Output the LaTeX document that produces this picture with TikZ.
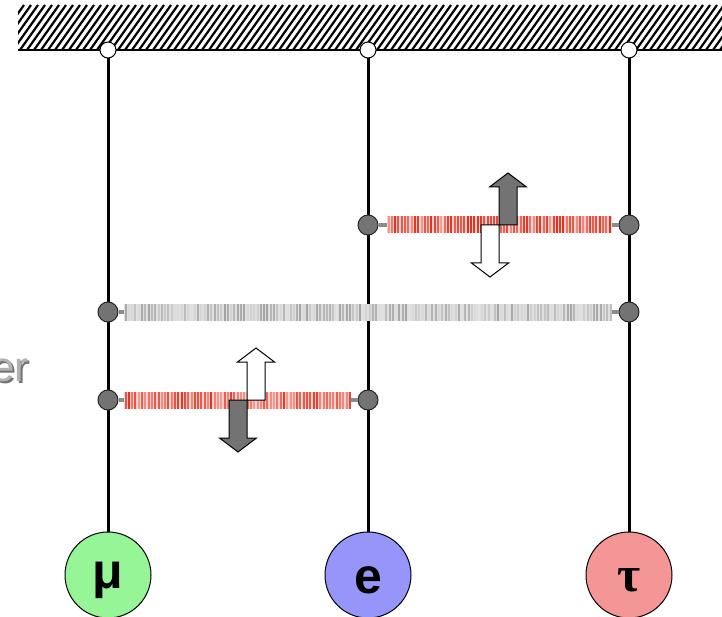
\documentclass[tikz,border=0pt]{standalone}
\usepackage{fontspec}
\setmainfont{Liberation Sans}
\newfontfamily\taufont{Liberation Serif}
\usetikzlibrary{calc}

\definecolor{mucol}{RGB}{150,245,150}
\definecolor{ecol}{RGB}{150,150,250}
\definecolor{taucol}{RGB}{245,150,150}
\definecolor{coilred}{RGB}{225,45,25}
\definecolor{coilgrey}{RGB}{110,110,110}

% spring body: x, y, length, colour, seed, lightest, darkest
\newcommand{\coil}[7]{%
  \fill[#4!22] (#1,#2-8.5) rectangle ++(#3,17);
  \pgfmathsetseed{#5}
  \foreach \s in {1.5,4.8,...,#3} {
    \pgfmathsetmacro\shade{int(#6+(#7-#6)*rnd)}
    \draw[#4!\shade, line width=2pt] (#1+\s,#2-8.5) -- ++(0,17);
  }
}

\tikzset{
  hook/.style={draw, circle, fill=white, line width=1pt, minimum size=16pt, inner sep=0pt},
  knot/.style={draw=black!85, circle, fill=black!55, line width=1pt, minimum size=20pt, inner sep=0pt},
  ball/.style={draw, circle, line width=1pt, minimum size=86pt, inner sep=0pt},
  balltext/.style={inner sep=0pt, font=\fontsize{50}{50}\selectfont\bfseries},
  string/.style={line width=3pt},
  link/.style={line width=4pt, black!45},
  spinarrow/.pic={
    \draw[pic actions, line width=1pt] (-9,0) -- (-9,-38) -- (-18.5,-38) -- (0,-52)
      -- (18.5,-38) -- (9,-38) -- (9,0) -- cycle;
  }
}

\begin{document}
\begin{tikzpicture}[x=1pt,y=-1pt]
  \useasboundingbox (0,0) rectangle (722,617);

  % ceiling
  \begin{scope}
    \clip (18,5) rectangle (722,50);
    \foreach \h in {-50,-43,...,760}
      \draw[line width=2.2pt] (\h,50) -- (\h+32,5);
  \end{scope}
  \draw[line width=2pt] (18,50) -- (722,50);

  % hooks and balls
  \node[hook] (hm) at (108,50) {};
  \node[hook] (he) at (368,50) {};
  \node[hook] (ht) at (629,50) {};
  \node[ball, fill=mucol] (bm) at (108,575) {};
  \node[ball, fill=ecol] (be) at (368,575) {};
  \node[ball, fill=taucol] (bt) at (629,575) {};
  \node[balltext] (lm) at ([yshift=-5pt]bm.center) {μ};
  \node[balltext] (le) at ([yshift=-5pt]be.center) {e};
  \node[balltext] (lt) at ([yshift=-5pt]bt.center) {\taufont τ};

  \draw[string] (hm) -- (bm);
  \draw[string] (he) -- (be);
  \draw[string] (ht) -- (bt);

  % springs
  \node[knot] (ke1) at (368,225) {};
  \node[knot] (kt1) at (629,225) {};
  \node[knot] (km2) at (108,312) {};
  \node[knot] (kt2) at (629,312) {};
  \node[knot] (km3) at (108,400) {};
  \node[knot] (ke3) at (368,400) {};

  \draw[link] (ke1) -- (kt1);
  \draw[link] (km2) -- (kt2);
  \draw[link] (km3) -- (ke3);

  \coil{387}{225}{225}{coilred}{3}{45}{100}
  \coil{124}{312}{488}{coilgrey}{7}{20}{65}
  \coil{124}{400}{226}{coilred}{11}{45}{100}

  % spin arrows
  \pic[fill=white, rotate=180] at (490,225) {spinarrow};
  \pic[fill=black!55] at (508,225) {spinarrow};
  \pic[fill=white] at (256,400) {spinarrow};
  \pic[fill=black!55, rotate=180] at (238,400) {spinarrow};

  % cut-off word
  \node[anchor=base east, text=black!55, font=\fontsize{42}{42}\selectfont] (ws) at (34,383) {er};
  \node[anchor=base east, text=black!30, font=\fontsize{42}{42}\selectfont] (wt) at (32,381) {er};
\end{tikzpicture}
\end{document}
